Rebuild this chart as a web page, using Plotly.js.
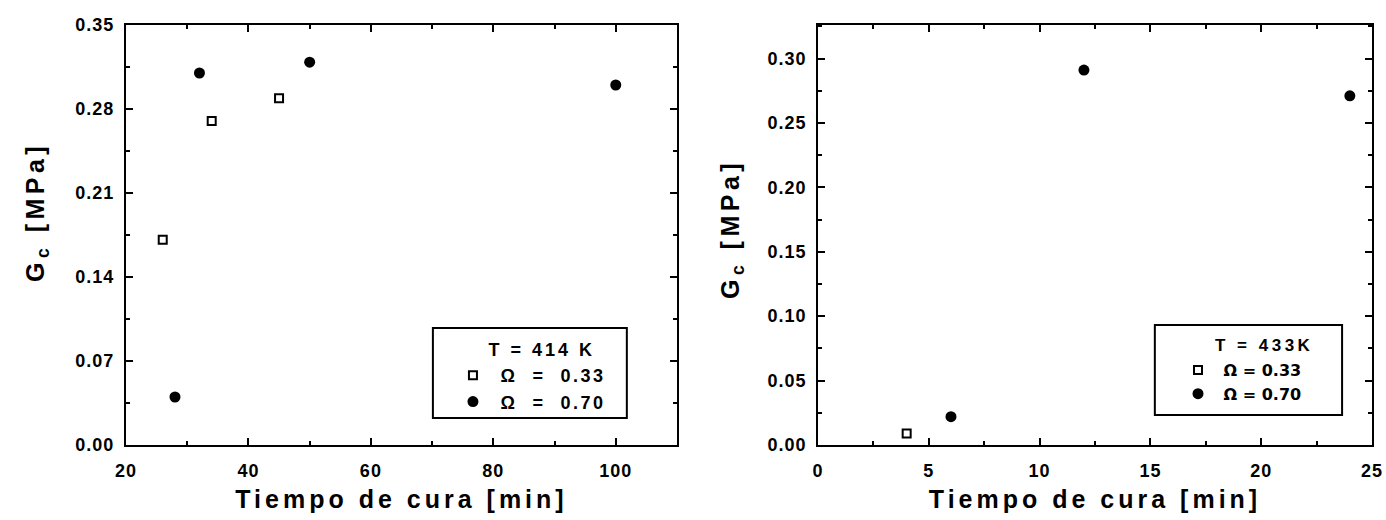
<!DOCTYPE html>
<html>
<head>
<meta charset="utf-8">
<script src="https://cdn.plot.ly/plotly-3.0.1.min.js"></script>
<style>
  html, body { margin: 0; padding: 0; background: #fff; }
  #chart { width: 1386px; height: 520px; }
  .xtitle, .x2title { letter-spacing: 4px; }
  .xtick text, .ytick text, .x2tick text, .y2tick text { letter-spacing: 1px; }
  .legendtext { letter-spacing: 2.5px; }
  .annotation[data-index="0"] text { letter-spacing: 3px; }
  .annotation[data-index="1"] text { letter-spacing: 3.5px; }
  .annotation[data-index="2"] text, .annotation[data-index="3"] text { letter-spacing: 4.5px; }
</style>
</head>
<body>
<div id="chart"></div>
<script>
// Left panel: T = 414 K
const left_t_033 = [26, 34, 45];
const left_g_033 = [0.171, 0.270, 0.289];
const left_t_070 = [28, 32, 50, 100];
const left_g_070 = [0.040, 0.310, 0.319, 0.300];

// Right panel: T = 433 K
const right_t_033 = [4];
const right_g_033 = [0.009];
const right_t_070 = [6, 12, 24];
const right_g_070 = [0.022, 0.291, 0.271];

const legendLabel033 = "\u00A0\u03A9\u00A0\u00A0=\u00A0\u00A00.33";
const legendLabel070 = "\u00A0\u03A9\u00A0\u00A0=\u00A0\u00A00.70";
const legendLabel033b = "\u00A0\u03A9 = 0.33";
const legendLabel070b = "\u00A0\u03A9 = 0.70";
const leftTitle = "T = 414 K";
const rightTitle = "T = 433K";
const xTitle = "Tiempo de cura [min]";
const yTitle = "G<sub>c</sub> [MPa]";

const FONT = "Liberation Sans, Arial, sans-serif";
const FONT2 = "DejaVu Sans, Liberation Sans, sans-serif";
const sqMarker = {symbol: "square-open", size: 8, color: "#000", line: {width: 2, color: "#000"}};
const ciMarker = {symbol: "circle", size: 11, color: "#000"};

const traces = [
  {x: left_t_033, y: left_g_033, type: "scatter", mode: "markers", name: legendLabel033, marker: sqMarker, xaxis: "x", yaxis: "y", legend: "legend"},
  {x: left_t_070, y: left_g_070, type: "scatter", mode: "markers", name: legendLabel070, marker: ciMarker, xaxis: "x", yaxis: "y", legend: "legend"},
  {x: right_t_033, y: right_g_033, type: "scatter", mode: "markers", name: legendLabel033b, marker: sqMarker, xaxis: "x2", yaxis: "y2", legend: "legend2"},
  {x: right_t_070, y: right_g_070, type: "scatter", mode: "markers", name: legendLabel070b, marker: ciMarker, xaxis: "x2", yaxis: "y2", legend: "legend2"}
];

function axisBase() {
  return {
    showline: true, linewidth: 2, linecolor: "#000", mirror: "ticks",
    ticks: "inside", ticklen: 7, tickwidth: 2, tickcolor: "#000",
    showgrid: false, zeroline: false,
    tickfont: {family: FONT, size: 18, color: "#000", weight: "bold"},
    title: {font: {family: FONT, size: 25, color: "#000", weight: "bold"}},
    automargin: false
  };
}

const xaxis = Object.assign(axisBase(), {
  domain: [0, 0.4422], range: [20, 110], tick0: 20, dtick: 20, anchor: "y",
  minor: {ticks: "inside", ticklen: 4, tickwidth: 2, tickcolor: "#000", dtick: 10},
  ticklabelstandoff: 8
});
xaxis.title.text = xTitle; xaxis.title.standoff = 11;

const yaxis = Object.assign(axisBase(), {
  domain: [0, 1], range: [0, 0.35], tick0: 0, dtick: 0.07, tickformat: ".2f", anchor: "x",
  minor: {ticks: "inside", ticklen: 4, tickwidth: 2, tickcolor: "#000", dtick: 0.035},
  ticklabelstandoff: 6
});

const xaxis2 = Object.assign(axisBase(), {
  domain: [0.5554, 1], range: [0, 25], tick0: 0, dtick: 5, anchor: "y2",
  minor: {ticks: "inside", ticklen: 4, tickwidth: 2, tickcolor: "#000", dtick: 2.5},
  ticklabelstandoff: 8
});
xaxis2.title.text = xTitle; xaxis2.title.standoff = 11;

const yaxis2 = Object.assign(axisBase(), {
  domain: [0, 1], range: [0, 0.326], tick0: 0, dtick: 0.05, tickformat: ".2f", anchor: "x2",
  minor: {ticks: "inside", ticklen: 4, tickwidth: 2, tickcolor: "#000", dtick: 0.025},
  ticklabelstandoff: 6
});

const legendFont = {family: FONT, size: 18, color: "#000", weight: "bold"};
const legendFont2 = {family: FONT2, size: 16, color: "#000", weight: "bold"};
const titleFont2 = {family: FONT, size: 17, color: "#000", weight: "bold"};
const yTitleFont = {family: FONT, size: 25, color: "#000", weight: "bold"};

const layout = {
  width: 1386, height: 520,
  margin: {l: 126, r: 14, t: 25, b: 75},
  paper_bgcolor: "#fff", plot_bgcolor: "#fff",
  showlegend: true,
  xaxis: xaxis, yaxis: yaxis, xaxis2: xaxis2, yaxis2: yaxis2,
  legend: {x: 0.2624, y: 0.2095, xanchor: "left", yanchor: "top", bgcolor: "rgba(0,0,0,0)", borderwidth: 0, font: legendFont, tracegroupgap: 0},
  legend2: {x: 0.8443, y: 0.2190, xanchor: "left", yanchor: "top", bgcolor: "rgba(0,0,0,0)", borderwidth: 0, font: legendFont2, tracegroupgap: 0},
  shapes: [
    {type: "rect", xref: "x domain", yref: "y domain", x0: 0.557, x1: 0.909, y0: 0.0643, y1: 0.2786, line: {color: "#000", width: 2}},
    {type: "rect", xref: "x2 domain", yref: "y2 domain", x0: 0.608, x1: 0.946, y0: 0.0714, y1: 0.2857, line: {color: "#000", width: 2}}
  ],
  annotations: [
    {text: leftTitle, xref: "x domain", yref: "y domain", x: (500 - 126) / 551, y: (445 - 350) / 420, xanchor: "left", yanchor: "middle", showarrow: false, font: legendFont},
    {text: rightTitle, xref: "x2 domain", yref: "y2 domain", x: (1227 - 818) / 554, y: (445 - 345) / 420, xanchor: "left", yanchor: "middle", showarrow: false, font: titleFont2},
    {text: yTitle, xref: "x domain", yref: "y domain", x: (37 - 126) / 551, y: (445 - 212) / 420, xanchor: "center", yanchor: "middle", textangle: -90, showarrow: false, font: yTitleFont},
    {text: yTitle, xref: "x2 domain", yref: "y2 domain", x: (732 - 818) / 554, y: (445 - 229) / 420, xanchor: "center", yanchor: "middle", textangle: -90, showarrow: false, font: yTitleFont}
  ]
};

Plotly.newPlot("chart", traces, layout, {displayModeBar: false, staticPlot: true});
</script>
</body>
</html>
